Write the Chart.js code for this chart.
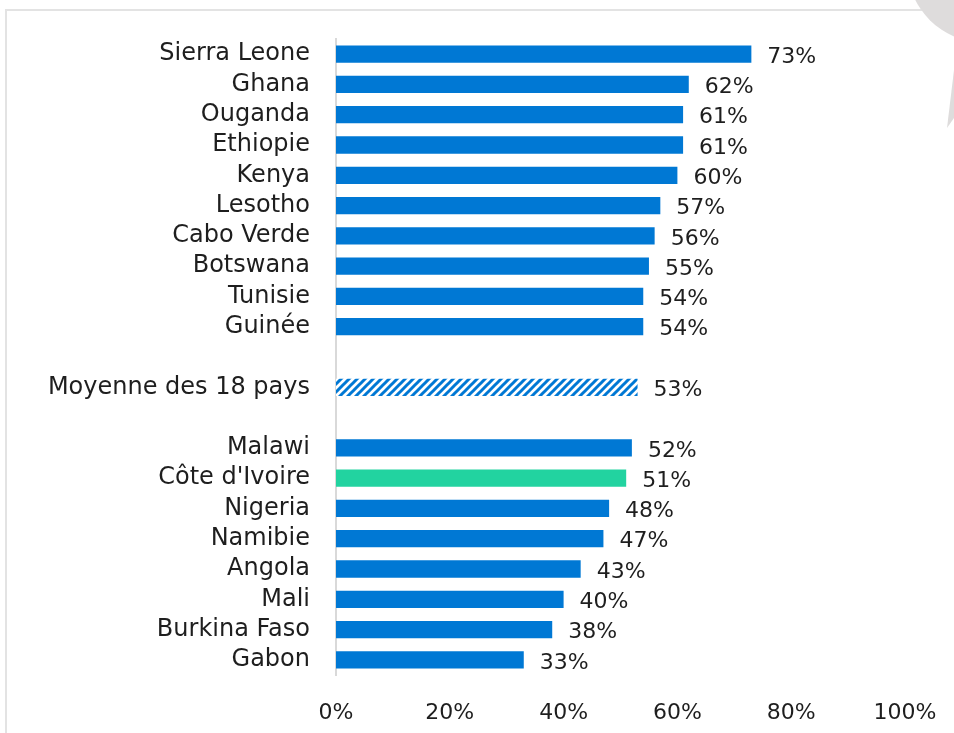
<!DOCTYPE html>
<html lang="fr">
<head>
  <meta charset="UTF-8" />
  <title>Pays</title>
  <script src="https://cdn.jsdelivr.net/npm/chart.js@4.4.4/dist/chart.umd.min.js"></script>
  <style>
    * { margin: 0; padding: 0; box-sizing: border-box; }
    body { background: #fff; width: 954px; height: 733px; overflow: hidden; }
    .wrap { position: relative; width: 954px; height: 733px; }
  </style>
</head>
<body>
  <div class="wrap"><canvas id="chart" width="954" height="733"></canvas></div>
  <script>
    // '' entries are the blank rows around the average
    const pays = ['Sierra Leone', 'Ghana', 'Ouganda', 'Ethiopie', 'Kenya', 'Lesotho', 'Cabo Verde', 'Botswana', 'Tunisie', 'Guinée',
      '', 'Moyenne des 18 pays', '',
      'Malawi', "Côte d'Ivoire", 'Nigeria', 'Namibie', 'Angola', 'Mali', 'Burkina Faso', 'Gabon']
    const valeurs = [73, 62, 61, 61, 60, 57, 56, 55, 54, 54,
      null, 53, null,
      52, 51, 48, 47, 43, 40, 38, 33]
    const moyenne = 'Moyenne des 18 pays'
    const focus = "Côte d'Ivoire"
    const xTicks = [0, 20, 40, 60, 80, 100]

    const BLUE = '#0078d4'
    const TEAL = '#22d3a0'
    const FONT = '"DejaVu Sans", sans-serif'

    // hatched fill for the average
    function hatch() {
      const c = document.createElement('canvas')
      c.width = 8; c.height = 8
      const g = c.getContext('2d')
      g.fillStyle = '#fff'
      g.fillRect(0, 0, 8, 8)
      g.strokeStyle = BLUE
      g.lineWidth = 3
      g.beginPath()
      g.moveTo(-2, 10); g.lineTo(10, -2)
      g.moveTo(-6, 6); g.lineTo(6, -6)
      g.moveTo(2, 14); g.lineTo(14, 2)
      g.stroke()
      return g.createPattern(c, 'repeat')
    }
    const hatchFill = hatch()

    const colors = pays.map((p) => p === moyenne ? hatchFill : p === focus ? TEAL : BLUE)

    const frame = {
      id: 'frame',
      beforeDraw(chart) {
        const ctx = chart.ctx
        ctx.save()
        ctx.strokeStyle = '#e3e3e3'
        ctx.lineWidth = 2
        ctx.beginPath()
        ctx.moveTo(6, 733); ctx.lineTo(6, 10); ctx.lineTo(954, 10)
        ctx.stroke()
        ctx.fillStyle = '#dedcdc'
        ctx.beginPath()
        ctx.arc(985, -35, 78, 0, Math.PI * 2)
        ctx.fill()
        ctx.beginPath()
        ctx.moveTo(954, 70); ctx.lineTo(947, 128); ctx.lineTo(954, 118)
        ctx.fill()
        ctx.restore()
      },
    }

    const valueLabels = {
      id: 'valueLabels',
      afterDatasetsDraw(chart) {
        const ctx = chart.ctx
        const meta = chart.getDatasetMeta(0)
        ctx.save()
        ctx.font = '22px ' + FONT
        ctx.fillStyle = '#1e1e1e'
        ctx.textAlign = 'left'
        ctx.textBaseline = 'middle'
        meta.data.forEach((bar, i) => {
          if (valeurs[i] == null) return
          ctx.fillText(valeurs[i] + '%', bar.x + 16, bar.y + 3)
        })
        ctx.restore()
      },
    }

    new Chart(document.getElementById('chart'), {
      type: 'bar',
      data: {
        labels: pays,
        datasets: [{
          data: valeurs,
          backgroundColor: colors,
          borderWidth: 0,
          barPercentage: 0.57,
          categoryPercentage: 1,
        }],
      },
      options: {
        indexAxis: 'y',
        responsive: false,
        animation: false,
        layout: { padding: { top: 39, right: 49, bottom: 0, left: 0 } },
        plugins: { legend: { display: false }, tooltip: { enabled: false } },
        scales: {
          x: {
            min: 0,
            max: 100,
            afterBuildTicks: (s) => { s.ticks = xTicks.map((v) => ({value: v})) },
            afterFit: (s) => { s.height = 58; s.paddingLeft = 0; s.paddingRight = 0 },
            grid: { display: false, drawTicks: false },
            border: { display: false },
            ticks: { padding: 25, color: '#1e1e1e', font: { family: FONT, size: 22 }, callback: (v) => v + '%' },
          },
          y: {
            afterFit: (s) => { s.width = 336; s.paddingTop = 0; s.paddingBottom = 0 },
            grid: { display: false, drawTicks: false },
            border: { display: true, color: '#d9d9d9', width: 2 },
            ticks: { padding: 26, color: '#1e1e1e', font: { family: FONT, size: 24 }, autoSkip: false },
          },
        },
      },
      plugins: [frame, valueLabels],
    })
  </script>
</body>
</html>
